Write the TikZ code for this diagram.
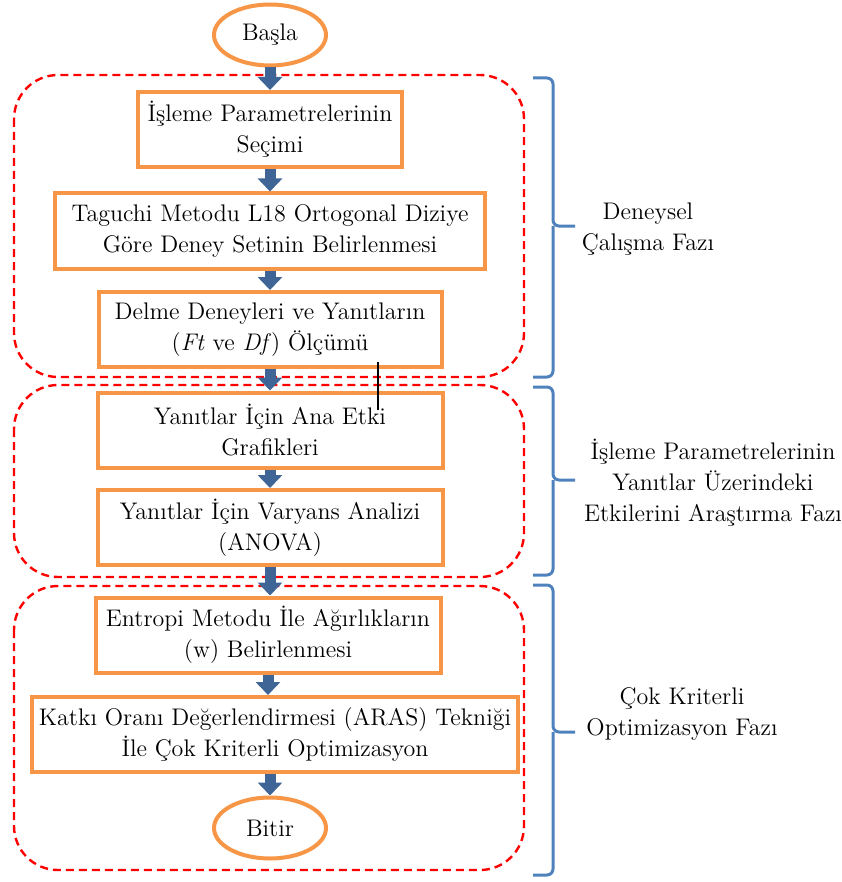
\documentclass[tikz,border=0pt]{standalone}
\usepackage{fontspec}
\usetikzlibrary{arrows.meta,shapes.geometric}
\definecolor{boxorange}{HTML}{F79646}
\definecolor{arrowblue}{HTML}{3F6596}
\definecolor{braceblue}{HTML}{4F81BD}

\begin{document}
\begin{tikzpicture}[x=0.5pt,y=-0.5pt,
    every node/.style={font=\fontsize{12}{15.5}\selectfont},
    stepbox/.style={draw=boxorange,line width=2pt,align=center,minimum height=37.5pt,inner sep=0pt},
    terminal/.style={ellipse,draw=boxorange,line width=2pt,minimum width=56pt,minimum height=30.5pt,inner sep=0pt},
    flow/.style={draw=arrowblue,line width=5.5pt,-{Triangle[width=12pt,length=6.5pt]}},
    phase/.style={draw=red,line width=1.2pt,dash pattern=on 4pt off 2.5pt,rounded corners=22pt},
    bracket/.style={draw=braceblue,line width=1.5pt,rounded corners=3pt},
    phaselabel/.style={align=center}]
  \useasboundingbox (0,0) rectangle (841,882);
  % phases
  \draw[phase] (14,75) rectangle (524,377);
  \draw[phase] (14,385) rectangle (524,577);
  \draw[phase] (14,586) rectangle (524,870);
  % flow nodes
  \draw
    (270,35) node[terminal] (start){Başla}
    (270,129.5) node[stepbox,minimum width=132pt] (b1){İşleme Parametrelerinin\\Seçimi}
    (270,231) node[stepbox,minimum width=215pt] (b2){Taguchi Metodu L18 Ortogonal Diziye\\Göre Deney Setinin Belirlenmesi}
    (270,329.5) node[stepbox,minimum width=171.5pt] (b3){Delme Deneyleri ve Yanıtların\\(\textit{Ft} ve \textit{Df}) Ölçümü}
    (270,430) node[stepbox,minimum width=172.5pt] (b4){Yanıtlar İçin Ana Etki\\Grafikleri}
    (270,527.5) node[stepbox,minimum width=172.5pt] (b5){Yanıtlar İçin Varyans Analizi\\(ANOVA)}
    (268,635) node[stepbox,minimum width=172.5pt] (b6){Entropi Metodu İle Ağırlıkların\\(w) Belirlenmesi}
    (275,734.5) node[stepbox,minimum width=243pt] (b7){Katkı Oranı Değerlendirmesi (ARAS) Tekniği\\İle Çok Kriterli Optimizasyon}
    (270,828) node[terminal] (end){Bitir};
  \begin{scope}[flow]
    \draw (start.south) -- (start.south |- b1.north);
    \draw (b1.south) -- (b1.south |- b2.north);
    \draw (b2.south) -- (b2.south |- b3.north);
    \draw (b3.south) -- (b3.south |- b4.north);
    \draw (b4.south) -- (b4.south |- b5.north);
    \draw (b5.south) -- (b5.south |- b6.north);
    \draw (b6.south) -- (b6.south |- b7.north);
    \draw (end.north |- b7.south) -- (end.north);
  \end{scope}
  \draw[black,line width=0.6pt] (378,362) -- (378,410);
  % brackets
  \draw[bracket] (533,78) -| (553,226) -- (575,226) (553,226) |- (533,377);
  \draw[bracket] (533,387) -| (553,480) -- (575,480) (553,480) |- (533,575);
  \draw[bracket] (533,585) -| (553,732) -- (575,732) (553,732) |- (533,875);
  \draw
    (648,229) node[phaselabel] (p1){Deneysel\\Çalışma Fazı}
    (713,483) node[phaselabel] (p2){İşleme Parametrelerinin\\Yanıtlar Üzerindeki\\Etkilerini Araştırma Fazı}
    (682,714) node[phaselabel] (p3){Çok Kriterli\\Optimizasyon Fazı};
\end{tikzpicture}
\end{document}
